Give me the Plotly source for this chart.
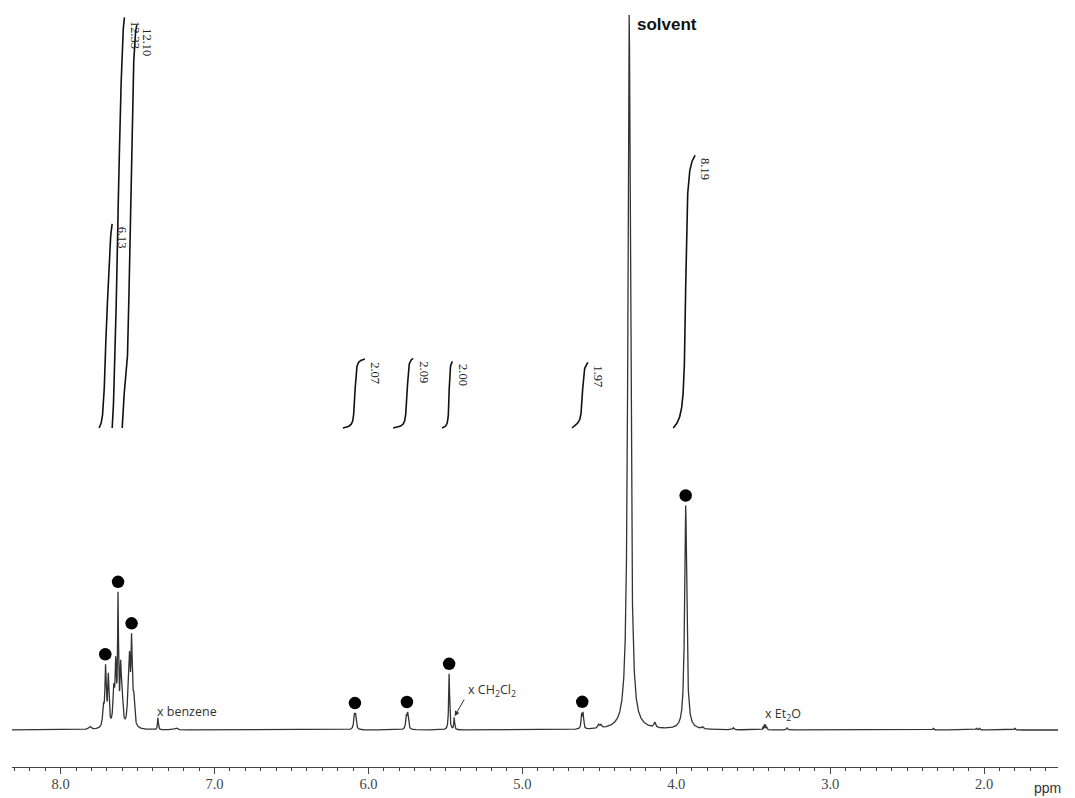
import numpy as np
import plotly.graph_objects as go

# ---------------- data ----------------
# spectral lines: chemical shift (ppm), height (a.u.), half width (ppm)
line_ppm = [7.810, 7.722, 7.708, 7.690, 7.655, 7.642, 7.627, 7.610, 7.600,
            7.560, 7.552, 7.539, 7.525, 7.368, 7.250,
            6.092, 6.084, 5.754, 5.745, 5.476, 5.443,
            4.615, 4.606, 4.505, 4.490, 4.306, 4.140, 3.939,
            3.830, 3.630, 3.436, 3.428, 3.420, 3.412, 3.280,
            2.330, 2.050, 2.030, 1.800]
line_height = [3, 18, 58, 50, 34, 58, 124, 55, 24,
               38, 52, 82, 26, 12, 2,
               13, 13, 12, 15, 56, 12,
               14, 15, 4, 3, 715, 5, 224,
               2, 2, 3, 5, 5, 3, 2,
               2, 2, 2, 2]
line_width = [0.010, 0.006, 0.005, 0.005, 0.006, 0.005, 0.0035, 0.005, 0.006,
              0.006, 0.005, 0.005, 0.006, 0.003, 0.010,
              0.005, 0.005, 0.005, 0.005, 0.0035, 0.003,
              0.004, 0.004, 0.006, 0.006, 0.0099, 0.006, 0.008,
              0.005, 0.005, 0.002, 0.002, 0.002, 0.002, 0.004,
              0.003, 0.003, 0.003, 0.003]

# integrals: region start / end (ppm) and value
int_start = [7.750, 7.665, 7.600, 6.166, 5.840, 5.522, 4.678, 4.020]
int_end = [7.665, 7.585, 7.505, 6.023, 5.710, 5.455, 4.574, 3.877]
int_value = [6.13, 12.33, 12.10, 2.07, 2.09, 2.00, 1.97, 8.19]
int_labels = ["6.13", "12.33", "12.10", "2.07", "2.09", "2.00", "1.97", "8.19"]

# assigned peaks (filled circles)
mark_ppm = [7.710, 7.627, 7.539, 6.088, 5.750, 5.476, 4.611, 3.939]

# axis
x_left, x_right = 8.316, 1.52
tick_vals = [8.0, 7.0, 6.0, 5.0, 4.0, 3.0, 2.0]

# ---------------- build spectrum ----------------
ppm = np.linspace(x_left, x_right, 14000)
spec = np.zeros_like(ppm)
for p, h, w in zip(line_ppm, line_height, line_width):
    spec += h / (1.0 + ((ppm - p) / w) ** 2)

fig = go.Figure()
fig.add_trace(go.Scatter(x=ppm, y=spec, mode="lines",
                         line=dict(color="#333333", width=1.3),
                         hoverinfo="skip"))

# integral curves
int_base = 302.0
int_scale = 33.3
ann = []
for s, e, v, lab in zip(int_start, int_end, int_value, int_labels):
    m = (ppm <= s) & (ppm >= e)
    xs = ppm[m]
    cs = np.cumsum(spec[m])
    cs = cs - cs[0]
    ys = int_base + v * int_scale * cs / cs[-1]
    fig.add_trace(go.Scatter(x=xs, y=ys, mode="lines",
                             line=dict(color="#111111", width=1.6),
                             hoverinfo="skip"))
    ann.append(dict(x=e, y=ys[-1], xref="x", yref="y", text=lab,
                    textangle=90, showarrow=False, xanchor="left",
                    yanchor="top", xshift=1, yshift=-1,
                    font=dict(family="Liberation Serif", size=12.5, color="#222222")))

# markers above assigned peaks
mark_y = []
for p in mark_ppm:
    m = np.abs(ppm - p) < 0.006
    mark_y.append(spec[m].max() + 10)
fig.add_trace(go.Scatter(x=mark_ppm, y=mark_y, mode="markers",
                         marker=dict(color="black", size=12.5),
                         hoverinfo="skip"))

lab_font = dict(family="Open Sans", size=12.5, color="#333333")
ann += [
    dict(x=7.387, y=19, text="x benzene", showarrow=False, xanchor="left",
         yanchor="middle", font=lab_font),
    dict(x=5.366, y=40, text="x CH<sub>2</sub>Cl<sub>2</sub>", showarrow=False,
         xanchor="left", yanchor="middle", font=lab_font),
    dict(x=5.443, y=13, text=" ", showarrow=True, arrowhead=2, arrowsize=1,
         arrowwidth=1, arrowcolor="#333333", ax=12, ay=-21, standoff=1,
         font=dict(size=4)),
    dict(x=3.437, y=16, text="x Et<sub>2</sub>O", showarrow=False,
         xanchor="left", yanchor="middle", font=lab_font),
    dict(x=4.27, y=706, text="<b>solvent</b>", showarrow=False, xanchor="left",
         yanchor="middle",
         font=dict(family="Liberation Sans", size=17, color="#111111")),
    dict(x=0.9895, y=-0.028, xref="paper", yref="paper", text="ppm",
         showarrow=False, xanchor="center", yanchor="middle",
         font=dict(family="Liberation Sans", size=14, color="#333333")),
]

# the page body adds an 8px offset, so the figure is drawn 8px smaller
fig.update_layout(
    width=1067, height=790,
    margin=dict(l=4, r=17, t=2, b=31),
    paper_bgcolor="white", plot_bgcolor="white",
    showlegend=False,
    annotations=ann,
    xaxis=dict(range=[x_left, x_right], showgrid=False, zeroline=False,
               showline=True, linecolor="#444444", linewidth=1.2,
               ticks="outside", ticklen=6, tickcolor="#444444", tickwidth=1,
               tickvals=tick_vals, ticktext=[f"{t:.1f}" for t in tick_vals],
               ticklabelstandoff=-3,
               tickfont=dict(family="Liberation Serif", size=14.5, color="#444444"),
               minor=dict(dtick=0.1, tick0=0, ticks="outside", ticklen=3,
                          tickcolor="#444444", showgrid=False)),
    yaxis=dict(range=[-37, 720], visible=False, showgrid=False, zeroline=False),
)

fig.write_html("out.html")
